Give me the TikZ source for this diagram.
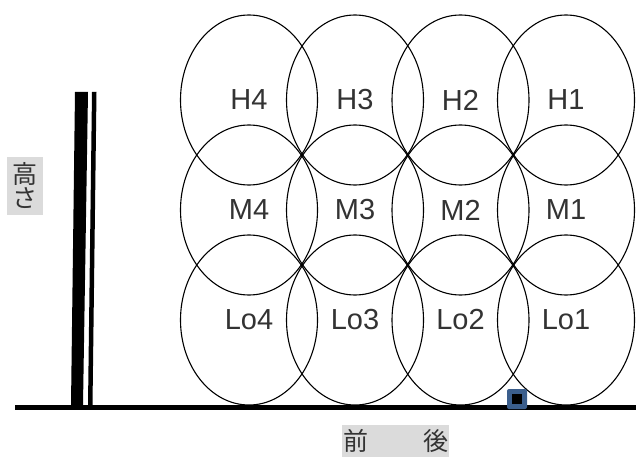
\documentclass[tikz,border=0pt]{standalone}
\usepackage{fontspec}
\setmainfont{Liberation Sans}
\newfontfamily\jpfont{Noto Sans CJK JP}
\usetikzlibrary{shapes.geometric}
\definecolor{labelgray}{gray}{0.2}
\definecolor{tagfill}{gray}{0.86}
\definecolor{sensorblue}{HTML}{3B5E8C}
\tikzset{
  zone/.style={ellipse, draw=black, line width=1.1pt, minimum width=137pt,
    minimum height=170pt, inner sep=0pt, text=labelgray,
    font=\fontsize{29}{29}\selectfont},
  tag/.style={fill=tagfill, text=labelgray, inner sep=0pt,
    font=\jpfont\fontsize{25}{27}\selectfont},
  pole/.style={fill=black}
}
\begin{document}
\begin{tikzpicture}[x=1pt, y=-1pt]
  \useasboundingbox (0,0) rectangle (636,457);

  % ground line
  \draw[line width=5pt] (15,407.5) -- (636,407.5);

  % double pole on the left
  \fill[pole] (75,92) -- (88,92) -- (83,405) -- (71,405) -- cycle;
  \fill[pole] (92,92) -- (96.5,92) -- (92.5,405) -- (88,405) -- cycle;

  % zone grid: rows H / M / Lo, columns 4 .. 1
  \foreach \c/\x in {4/249, 3/355, 2/460.5, 1/566} {
    \node[zone] (H\c)  at (\x,100) {H\c};
    \node[zone] (M\c)  at (\x,210) {M\c};
    \node[zone] (Lo\c) at (\x,320) {Lo\c};
  }

  % sensor on the ground
  \node[fill=sensorblue, minimum size=20pt, inner sep=0pt, rounded corners=2pt]
    (sensor) at (517,399) {};
  \node[fill=black, minimum size=10pt, inner sep=0pt] (sensorcore) at (sensor.center) {};

  % axis labels
  \node[tag, minimum width=36pt, minimum height=58pt, align=center]
    (height) at (25,186) {高\\[-3pt]さ};
  \node[tag, minimum width=107pt, minimum height=32pt, anchor=north west]
    (frontback) at (342,425) {前\hspace{55pt}後};
\end{tikzpicture}
\end{document}
